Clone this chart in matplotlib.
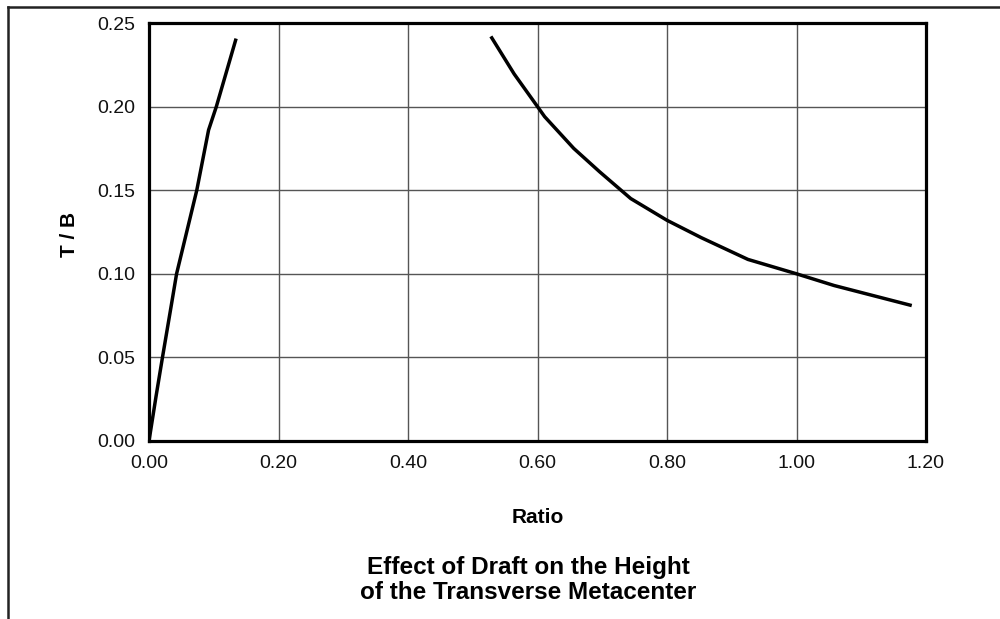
import numpy as np
import matplotlib
matplotlib.use("Agg")
import matplotlib.pyplot as plt
from matplotlib.lines import Line2D

plt.rcParams['font.family'] = ['Liberation Sans', 'DejaVu Sans']

# Left branch
ratio_a = [0.0, 0.011, 0.0208, 0.0348, 0.0426, 0.0738, 0.092, 0.104, 0.1345]
tb_a = [0.0, 0.027, 0.050, 0.082, 0.100, 0.150, 0.186, 0.200, 0.2407]

# Right branch
ratio_b = [0.528, 0.564, 0.600, 0.611, 0.656, 0.696, 0.744, 0.800,
           0.853, 0.925, 1.000, 1.058, 1.178]
tb_b = [0.242, 0.2195, 0.200, 0.194, 0.175, 0.161, 0.145, 0.132,
        0.1216, 0.1086, 0.100, 0.093, 0.081]

xticks = [0.0, 0.2, 0.4, 0.6, 0.8, 1.0, 1.2]
yticks = [0.0, 0.05, 0.10, 0.15, 0.20, 0.25]

fig = plt.figure(figsize=(10, 6.19), dpi=100)
ax = fig.add_axes([0.149, 0.2876, 0.777, 0.6752])

ax.plot(ratio_a, tb_a, color='black', lw=2.5, solid_capstyle='butt',
        solid_joinstyle='round')
ax.plot(ratio_b, tb_b, color='black', lw=2.5, solid_capstyle='butt',
        solid_joinstyle='round')

ax.set_xlim(0, 1.2)
ax.set_ylim(0, 0.25)
ax.set_xticks(xticks)
ax.set_yticks(yticks)
ax.set_xticklabels([f'{v:.2f}' for v in xticks])
ax.set_yticklabels([f'{v:.2f}' for v in yticks])
ax.tick_params(length=0, labelsize=14, pad=10, labelcolor='#111111')
ax.grid(True, color='#555555', lw=1.0)
ax.set_axisbelow(True)
for s in ax.spines.values():
    s.set_linewidth(2.3)
    s.set_color('black')

ax.set_xlabel('Ratio', fontsize=15, fontweight='bold', va='center')
ax.xaxis.set_label_coords(0.5, -0.182)
ax.set_ylabel('T / B', fontsize=15, fontweight='bold', va='center')
ax.yaxis.set_label_coords(-0.1017, 0.493)

fig.text(0.528, 0.063, 'Effect of Draft on the Height\nof the Transverse Metacenter',
         ha='center', va='center', fontsize=17.5, fontweight='bold', linespacing=1.1)

# partial outer frame (left and top edges)
fig.add_artist(Line2D([0.0075, 0.0075], [0, 0.989], color='#222222', lw=1.8))
fig.add_artist(Line2D([0.0075, 1.0], [0.989, 0.989], color='#222222', lw=1.8))

fig.savefig('out.png', dpi=100)
